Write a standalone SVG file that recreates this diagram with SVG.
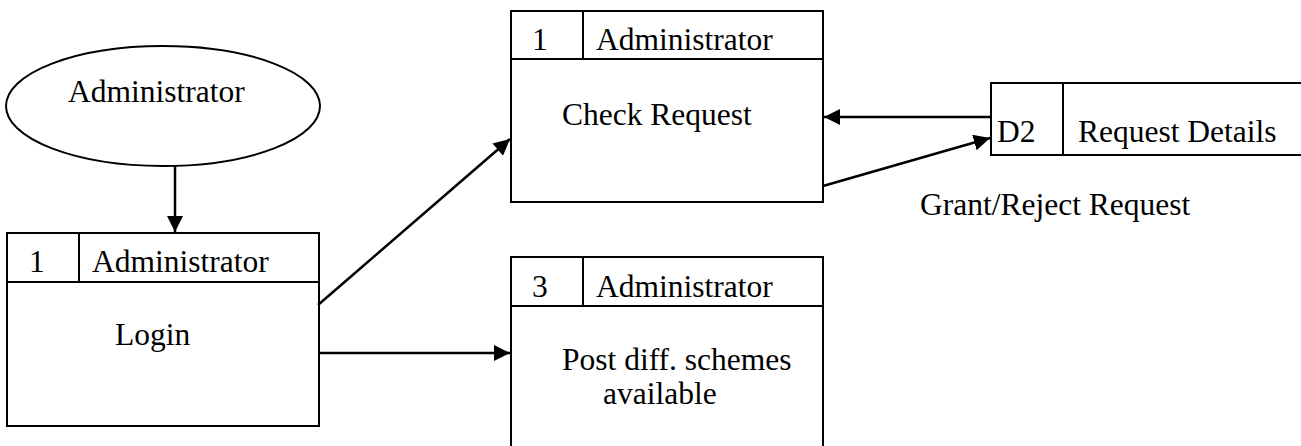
<svg xmlns="http://www.w3.org/2000/svg" width="1301" height="446" viewBox="0 0 1301 446">
  <style>
    .shape { fill: #fff; stroke: #000; stroke-width: 2; }
    .div { stroke: #000; stroke-width: 2; fill: none; }
    .lbl { font-family: "Liberation Serif", "Times New Roman", serif; font-size: 31.5px; fill: #000; }
    .flow { stroke: #000; stroke-width: 2.5; fill: none; marker-end: url(#arrow); }
  </style>
  <defs>
    <marker id="arrow" viewBox="0 0 10 10" refX="10" refY="5" markerWidth="6.5" markerHeight="6.5" markerUnits="strokeWidth" orient="auto">
      <path d="M0,0 L10,5 L0,10 z" fill="#000"/>
    </marker>
  </defs>
  <rect width="1301" height="446" fill="#fff"/>

  <!-- external entity -->
  <g id="entity-admin">
    <ellipse class="shape" cx="163" cy="106" rx="157" ry="60"/>
    <text class="lbl" x="68" y="102">Administrator</text>
  </g>

  <!-- process: login -->
  <g id="proc-login">
    <rect class="shape" x="7" y="233" width="312" height="193"/>
    <line class="div" x1="7" y1="282" x2="319" y2="282"/>
    <line class="div" x1="79" y1="233" x2="79" y2="282"/>
    <text class="lbl" x="29" y="272">1</text>
    <text class="lbl" x="92" y="272">Administrator</text>
    <text class="lbl" x="115" y="345">Login</text>
  </g>

  <!-- process: check request -->
  <g id="proc-check">
    <rect class="shape" x="511" y="11" width="312" height="191"/>
    <line class="div" x1="511" y1="59" x2="823" y2="59"/>
    <line class="div" x1="583" y1="11" x2="583" y2="59"/>
    <text class="lbl" x="532" y="50">1</text>
    <text class="lbl" x="596" y="50">Administrator</text>
    <text class="lbl" x="562" y="125">Check Request</text>
  </g>

  <!-- process: post schemes -->
  <g id="proc-post">
    <rect class="shape" x="511" y="257" width="312" height="200"/>
    <line class="div" x1="511" y1="306" x2="823" y2="306"/>
    <line class="div" x1="583" y1="257" x2="583" y2="306"/>
    <text class="lbl" x="532" y="297">3</text>
    <text class="lbl" x="596" y="297">Administrator</text>
    <text class="lbl" x="562" y="370">Post diff. schemes</text>
    <text class="lbl" x="603" y="404">available</text>
  </g>

  <!-- data store -->
  <g id="store-d2">
    <path class="div" d="M1302,83 H991 V155 H1302"/>
    <line class="div" x1="1063" y1="83" x2="1063" y2="155"/>
    <text class="lbl" x="997" y="142">D2</text>
    <text class="lbl" x="1078" y="142">Request Details</text>
  </g>

  <!-- data flows -->
  <g id="connectors">
    <line class="flow" x1="175" y1="166" x2="175" y2="232"/>
    <line class="flow" x1="318" y1="305" x2="510" y2="139"/>
    <line class="flow" x1="319" y1="353" x2="510" y2="353"/>
    <line class="flow" x1="991" y1="117" x2="824" y2="117"/>
    <line class="flow" x1="823" y1="186" x2="990" y2="138"/>
    <text class="lbl" x="920" y="215">Grant/Reject Request</text>
  </g>
</svg>
